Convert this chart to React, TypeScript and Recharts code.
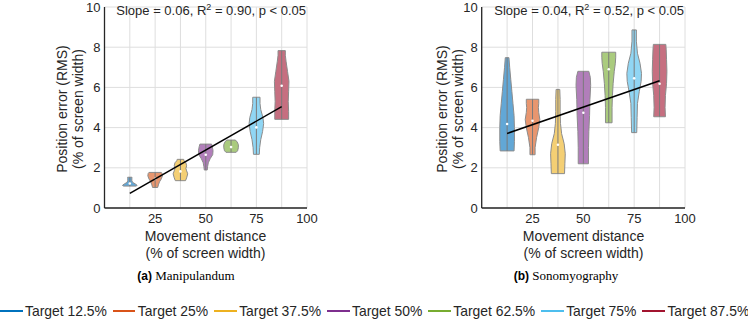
import React from 'react';
import { ScatterChart, Scatter, XAxis, YAxis, CartesianGrid } from 'recharts';

// ---------- data ----------
const targets = [12.5, 25, 37.5, 50, 62.5, 75, 87.5];
const targetLabels = ['Target 12.5%', 'Target 25%', 'Target 37.5%', 'Target 50%', 'Target 62.5%', 'Target 75%', 'Target 87.5%'];
const lineColors = ['#0072BD', '#D95319', '#EDB120', '#7E2F8E', '#77AC30', '#4DBEEE', '#A2142F'];
const fillColors = ['#62A7D6', '#E8966F', '#F4CF74', '#B17EBA', '#AACB7E', '#90D6F4', '#C66F80'];

const xTicks = [12.5, 25, 37.5, 50, 62.5, 75, 87.5, 100];
const xTickLabels = ['', '25', '', '50', '', '75', '', '100'];
const yTicks = [0, 2, 4, 6, 8, 10];

// violin profiles: [value, relative half width], bottom to top
const maniProfiles: [number, number][][] = [
  [[1.09, 0.9], [1.13, 1.0], [1.2, 0.75], [1.27, 0.4], [1.35, 0.28], [1.45, 0.28], [1.53, 0.3]],
  [[1.02, 0.35], [1.15, 0.45], [1.3, 0.6], [1.45, 0.85], [1.6, 1.0], [1.72, 0.95], [1.77, 0.85]],
  [[1.36, 0.7], [1.5, 0.85], [1.7, 1.0], [1.85, 0.85], [1.97, 0.75], [2.1, 0.85], [2.25, 0.75], [2.35, 0.5], [2.42, 0.45]],
  [[1.89, 0.2], [2.05, 0.25], [2.25, 0.35], [2.45, 0.6], [2.65, 0.95], [2.85, 1.0], [3.05, 0.9], [3.18, 0.8]],
  [[2.77, 0.7], [2.85, 0.9], [3.0, 1.0], [3.15, 1.0], [3.28, 0.85], [3.38, 0.6]],
  [[2.67, 0.4], [3.0, 0.45], [3.4, 0.6], [3.8, 0.85], [4.2, 1.0], [4.5, 0.9], [4.9, 0.6], [5.2, 0.5], [5.51, 0.5]],
  [[4.41, 0.95], [4.8, 0.95], [5.3, 0.9], [5.8, 0.95], [6.3, 1.0], [6.8, 0.8], [7.3, 0.6], [7.6, 0.5], [7.83, 0.5]],
];
const maniMedians = [1.22, 1.45, 1.82, 2.65, 3.03, 4.01, 6.08];
const maniFit = [{ x: 12.5, y: 0.73 }, { x: 87.5, y: 5.04 }];

const sonoProfiles: [number, number][][] = [
  [[2.84, 0.95], [3.3, 1.0], [4.0, 1.0], [4.6, 0.95], [5.2, 0.8], [5.8, 0.65], [6.4, 0.5], [7.0, 0.35], [7.48, 0.25]],
  [[2.65, 0.35], [3.0, 0.35], [3.5, 0.55], [4.0, 0.85], [4.4, 1.0], [4.75, 0.85], [5.0, 0.8], [5.2, 0.85], [5.41, 0.85]],
  [[1.71, 0.9], [2.2, 0.95], [2.7, 1.0], [3.2, 0.85], [3.7, 0.5], [4.2, 0.35], [4.8, 0.3], [5.4, 0.3], [5.9, 0.25]],
  [[2.2, 0.7], [3.0, 0.7], [3.8, 0.75], [4.6, 0.85], [5.4, 0.9], [6.1, 1.0], [6.5, 0.95], [6.8, 0.75]],
  [[4.24, 0.45], [5.0, 0.45], [5.6, 0.5], [6.2, 0.6], [6.8, 0.75], [7.2, 0.9], [7.5, 0.95], [7.75, 0.95]],
  [[3.75, 0.35], [4.5, 0.4], [5.2, 0.45], [5.8, 0.7], [6.3, 0.95], [6.7, 1.0], [7.2, 0.8], [7.7, 0.45], [8.3, 0.3], [8.86, 0.3]],
  [[4.54, 0.8], [5.0, 0.75], [5.6, 0.8], [6.2, 0.95], [6.8, 1.0], [7.4, 0.95], [7.9, 0.9], [8.14, 0.85]],
];
const sonoMedians = [4.18, 4.34, 3.15, 4.74, 6.9, 6.45, 6.18];
const sonoFit = [{ x: 12.5, y: 3.71 }, { x: 87.5, y: 6.33 }];

const HALF_WIDTH = 3.6; // max violin half width in x units

// ---------- helpers ----------
const FONT = '"Liberation Sans", Arial, Helvetica, sans-serif';
const AXIS_COLOR = '#262626';

function violinPoints(center: number, profile: [number, number][]) {
  const right = profile.map(([v, w]) => ({ x: center + w * HALF_WIDTH, y: v }));
  const left = profile.slice().reverse().map(([v, w]) => ({ x: center - w * HALF_WIDTH, y: v }));
  return [...right, ...left];
}

const polygonLine = (fill: string) => (props: any) => {
  const pts = props.points || [];
  const d = pts.map((p: any, i: number) => `${i ? 'L' : 'M'}${p.x},${p.y}`).join('') + 'Z';
  return <path d={d} fill={fill} stroke="#8c8c8c" strokeWidth={1} strokeLinejoin="round" />;
};

const noShape = () => <g />;
const medianDot = (p: any) => <circle cx={p.cx} cy={p.cy} r={1.3} fill="#ffffff" />;

function ViolinPanel({ profiles, medians, fit, margin }: any) {
  return (
    <ScatterChart width={330} height={240} margin={margin}>
      <CartesianGrid stroke="#dedede" strokeWidth={1} />
      <XAxis
        type="number"
        dataKey="x"
        domain={[0, 100]}
        ticks={xTicks}
        interval={0}
        tickFormatter={(v: number, i: number) => xTickLabels[i]}
        height={20}
        tickSize={0}
        tickMargin={6}
        axisLine={{ stroke: AXIS_COLOR, strokeWidth: 1.3 }}
        tick={{ fill: AXIS_COLOR, fontSize: 13, fontFamily: FONT }}
        allowDataOverflow
      />
      <YAxis
        type="number"
        dataKey="y"
        domain={[0, 10]}
        ticks={yTicks}
        interval={0}
        width={30}
        tickSize={0}
        tickMargin={4}
        axisLine={{ stroke: AXIS_COLOR, strokeWidth: 1.3 }}
        tick={{ fill: AXIS_COLOR, fontSize: 13, fontFamily: FONT }}
        allowDataOverflow
      />
      {profiles.map((prof: [number, number][], i: number) => (
        <Scatter
          key={'v' + i}
          data={violinPoints(targets[i], prof)}
          shape={noShape}
          line={polygonLine(fillColors[i])}
          isAnimationActive={false}
        />
      ))}
      {profiles.map((prof: [number, number][], i: number) => (
        <Scatter
          key={'c' + i}
          data={[{ x: targets[i], y: prof[0][0] }, { x: targets[i], y: prof[prof.length - 1][0] }]}
          shape={noShape}
          line={{ stroke: '#7a7a7a', strokeWidth: 1 }}
          isAnimationActive={false}
        />
      ))}
      {medians.map((m: number, i: number) => (
        <Scatter key={'m' + i} data={[{ x: targets[i], y: m }]} shape={medianDot} isAnimationActive={false} />
      ))}
      <Scatter data={fit} shape={noShape} line={{ stroke: '#000000', strokeWidth: 1.5 }} isAnimationActive={false} />
    </ScatterChart>
  );
}

function Titles({ yx1, yx2, cx, slopeX, slope, r2 }: any) {
  return (
    <g fontFamily={FONT} fill={AXIS_COLOR}>
      <text x={yx1} y={109} fontSize={14} textAnchor="middle" dominantBaseline="central" transform={`rotate(-90 ${yx1} 109)`}>
        Position error (RMS)
      </text>
      <text x={yx2} y={109} fontSize={14} textAnchor="middle" dominantBaseline="central" transform={`rotate(-90 ${yx2} 109)`}>
        (% of screen width)
      </text>
      <text x={cx} y={240.5} fontSize={14} textAnchor="middle">Movement distance</text>
      <text x={cx} y={257.5} fontSize={14} textAnchor="middle">(% of screen width)</text>
      <text x={slopeX} y={14.5} fontSize={13} textAnchor="end">
        {`Slope = ${slope}, R`}
        <tspan fontSize={9} dy={-5}>2</tspan>
        <tspan dy={5}>{` = ${r2}, p < 0.05`}</tspan>
      </text>
    </g>
  );
}

const captions = [
  { tag: '(a)', name: 'Manipulandum', cx: 186 },
  { tag: '(b)', name: 'Sonomyography', cx: 566 },
];

export default function App() {
  return (
    <div style={{ position: 'absolute', left: 0, top: 0, width: 748, height: 319, background: '#fff', overflow: 'hidden', fontFamily: FONT }}>
      <div style={{ position: 'absolute', left: 0, top: 0 }}>
        <ViolinPanel profiles={maniProfiles} medians={maniMedians} fit={maniFit} margin={{ top: 7, right: 23, bottom: 12, left: 74.5 }} />
      </div>
      <div style={{ position: 'absolute', left: 378, top: 0 }}>
        <ViolinPanel profiles={sonoProfiles} medians={sonoMedians} fit={sonoFit} margin={{ top: 7, right: 23, bottom: 12, left: 73.7 }} />
      </div>
      <svg width={748} height={319} style={{ position: 'absolute', left: 0, top: 0, pointerEvents: 'none' }}>
        <Titles yx1={62} yx2={78} cx={205.5} slopeX={306} slope="0.06" r2="0.90" />
        <Titles yx1={441.7} yx2={457.7} cx={583.5} slopeX={684} slope="0.04" r2="0.52" />
        {captions.map((c) => (
          <text key={c.tag} x={c.cx} y={280} textAnchor="middle" fill="#000">
            <tspan fontFamily={FONT} fontWeight="bold" fontSize={12}>{c.tag + ' '}</tspan>
            <tspan fontFamily='"Liberation Serif", "Times New Roman", serif' fontSize={13}>{c.name}</tspan>
          </text>
        ))}
      </svg>
      <div style={{ position: 'absolute', left: 0, top: 301, display: 'flex', alignItems: 'center', whiteSpace: 'nowrap', height: 20 }}>
        {targetLabels.map((lab, i) => (
          <div key={lab} style={{ display: 'flex', alignItems: 'center', marginRight: 6 }}>
            <span style={{ display: 'inline-block', width: 22.5, height: 2, background: lineColors[i], marginRight: 2.5 }} />
            <span style={{ fontSize: 13.9, color: AXIS_COLOR, lineHeight: '20px' }}>{lab}</span>
          </div>
        ))}
      </div>
    </div>
  );
}
